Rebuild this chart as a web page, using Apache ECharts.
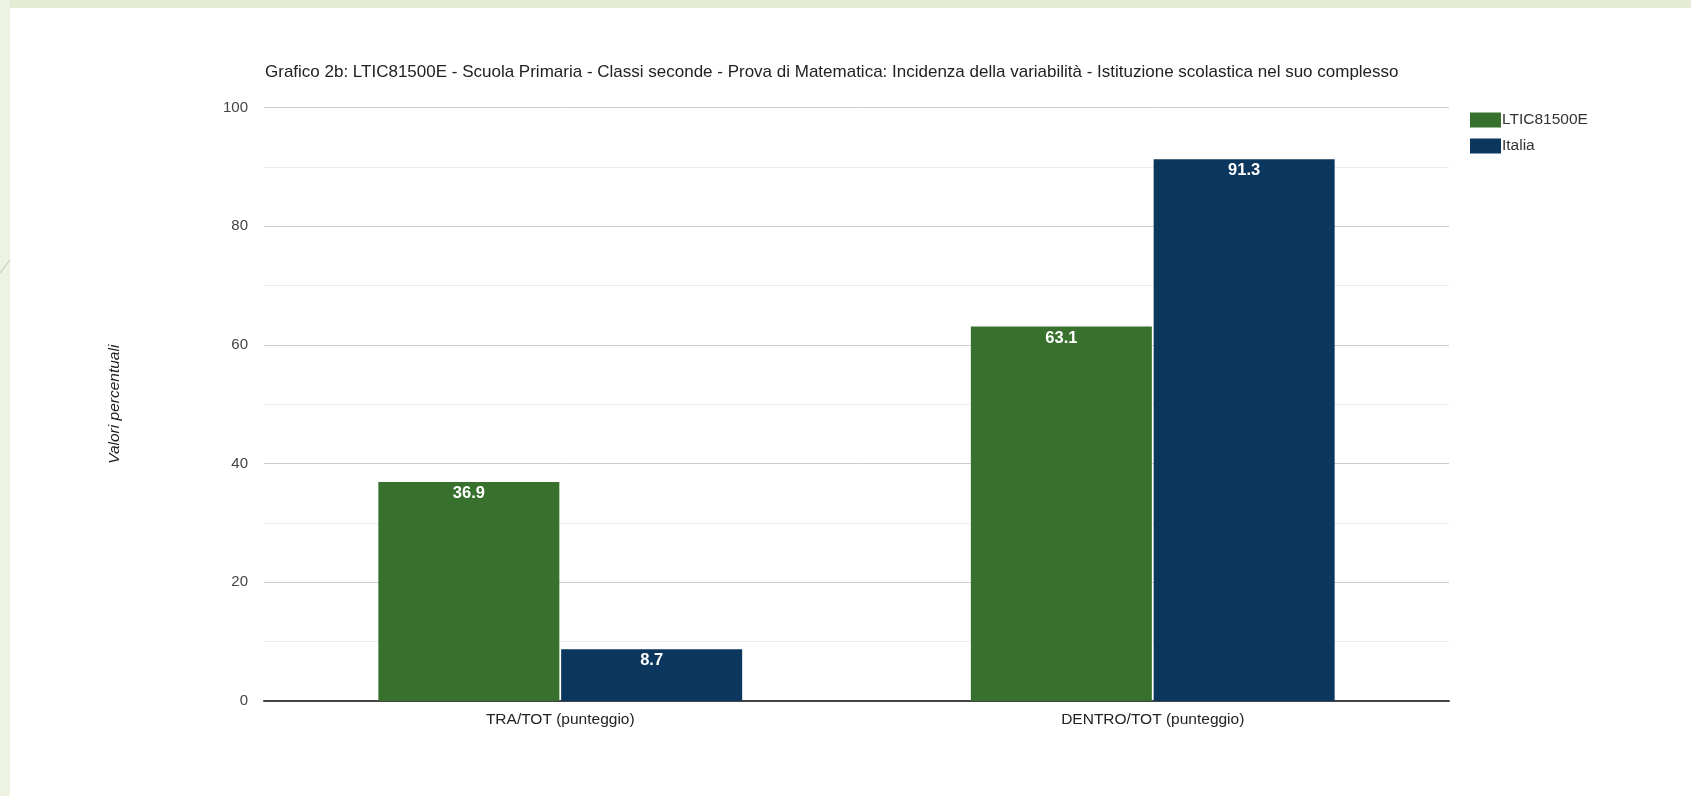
<!DOCTYPE html>
<html>
<head>
<meta charset="utf-8">
<style>
html,body{margin:0;padding:0;background:#fff;}
#chart{width:1691px;height:796px;}
</style>
<script src="https://cdn.jsdelivr.net/npm/echarts@6/dist/echarts.min.js"></script>
</head>
<body>
<div id="chart"></div>
<script>
const categories = ['TRA/TOT (punteggio)', 'DENTRO/TOT (punteggio)'];
const seriesNames = ['LTIC81500E', 'Italia'];
const schoolValues = [36.9, 63.1];
const italiaValues = [8.7, 91.3];
const yTicks = [0, 20, 40, 60, 80, 100];

const chart = echarts.init(document.getElementById('chart'));
const labelStyle = {
  show: true, position: 'insideTop', distance: 3,
  color: '#ffffff', fontWeight: 'bold', fontSize: 16.5,
  fontFamily: 'Liberation Sans, Arial, sans-serif',
  formatter: p => p.value.toFixed(1)
};
chart.setOption({
  backgroundColor: '#ffffff',
  animation: false,
  textStyle: { fontFamily: 'Liberation Sans, Arial, sans-serif' },
  graphic: [
    { type: 'rect', silent: true, z: -10, shape: { x: 0, y: 0, width: 1691, height: 8 }, style: { fill: '#e6ebd3' } },
    { type: 'rect', silent: true, z: -10, shape: { x: 0, y: 0, width: 10, height: 796 }, style: { fill: '#eef2e1' } },
    { type: 'line', silent: true, z: -9, shape: { x1: 0, y1: 273, x2: 10, y2: 260 }, style: { stroke: '#c9cdbf', lineWidth: 1.2 } }
  ],
  title: {
    text: 'Grafico 2b: LTIC81500E - Scuola Primaria - Classi seconde - Prova di Matematica: Incidenza della variabilità - Istituzione scolastica nel suo complesso',
    left: 260, top: 59,
    textStyle: { fontSize: 17, fontWeight: 'normal', color: '#222222' }
  },
  legend: {
    data: seriesNames,
    orient: 'vertical',
    left: 1465, top: 107,
    icon: 'rect',
    itemWidth: 31, itemHeight: 15, itemGap: 10,
    textStyle: { fontSize: 15.5, color: '#333333', padding: [0, 0, 0, -4] }
  },
  grid: { left: 264, right: 242, top: 107.5, bottom: 95, containLabel: false },
  xAxis: {
    type: 'category',
    data: categories,
    axisTick: { show: false },
    axisLine: { lineStyle: { color: '#444444', width: 2 } },
    axisLabel: { fontSize: 15.5, color: '#222222', margin: 11 }
  },
  yAxis: {
    type: 'value',
    min: yTicks[0], max: yTicks[yTicks.length - 1], interval: 20,
    name: 'Valori percentuali',
    nameLocation: 'middle', nameGap: 141, nameRotate: 90,
    nameTextStyle: { fontSize: 15.5, fontStyle: 'italic', color: '#222222' },
    axisLine: { show: false },
    axisTick: { show: false },
    axisLabel: { fontSize: 15, color: '#444444', margin: 16 },
    splitLine: { lineStyle: { color: '#cccccc', width: 1 } },
    minorTick: { show: false, splitNumber: 2 },
    minorSplitLine: { show: true, lineStyle: { color: '#ebebeb', width: 1 } }
  },
  series: [
    {
      name: seriesNames[0], type: 'bar', data: schoolValues,
      barWidth: 181, barGap: '1%',
      itemStyle: { color: '#37712d' },
      label: labelStyle
    },
    {
      name: seriesNames[1], type: 'bar', data: italiaValues,
      barWidth: 181,
      itemStyle: { color: '#0b365e' },
      label: labelStyle
    }
  ]
});
</script>
</body>
</html>
